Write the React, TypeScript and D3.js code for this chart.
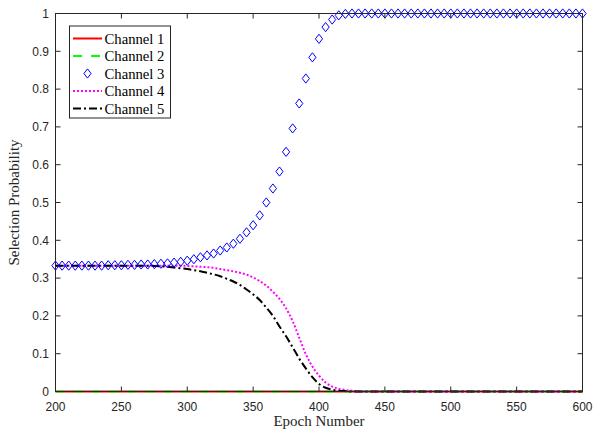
import React from "react";
import * as d3 from "d3";

const epochs = [
  200, 205, 210, 215, 220, 225, 230, 235, 240, 245, 250, 255, 260, 265, 270, 275, 280, 285, 290, 295,
  300, 305, 310, 315, 320, 325, 330, 335, 340, 345, 350, 355, 360, 365, 370, 375, 380, 385, 390, 395,
  400, 405, 410, 415, 420, 425, 430, 435, 440, 445, 450, 455, 460, 465, 470, 475, 480, 485, 490, 495,
  500, 505, 510, 515, 520, 525, 530, 535, 540, 545, 550, 555, 560, 565, 570, 575, 580, 585, 590, 595, 600,
];
const channel1 = [
  0, 0, 0, 0, 0, 0, 0, 0, 0, 0, 0, 0, 0, 0, 0, 0, 0, 0, 0, 0,
  0, 0, 0, 0, 0, 0, 0, 0, 0, 0, 0, 0, 0, 0, 0, 0, 0, 0, 0, 0,
  0, 0, 0, 0, 0, 0, 0, 0, 0, 0, 0, 0, 0, 0, 0, 0, 0, 0, 0, 0,
  0, 0, 0, 0, 0, 0, 0, 0, 0, 0, 0, 0, 0, 0, 0, 0, 0, 0, 0, 0, 0,
];
const channel2 = [
  0, 0, 0, 0, 0, 0, 0, 0, 0, 0, 0, 0, 0, 0, 0, 0, 0, 0, 0, 0,
  0, 0, 0, 0, 0, 0, 0, 0, 0, 0, 0, 0, 0, 0, 0, 0, 0, 0, 0, 0,
  0, 0, 0, 0, 0, 0, 0, 0, 0, 0, 0, 0, 0, 0, 0, 0, 0, 0, 0, 0,
  0, 0, 0, 0, 0, 0, 0, 0, 0, 0, 0, 0, 0, 0, 0, 0, 0, 0, 0, 0, 0,
];
const channel3 = [
  0.333, 0.333, 0.333, 0.333, 0.333, 0.333, 0.333, 0.333, 0.334, 0.334, 0.334, 0.335, 0.335, 0.336, 0.336, 0.337, 0.338, 0.339, 0.341, 0.343,
  0.346, 0.350, 0.355, 0.360, 0.365, 0.373, 0.381, 0.391, 0.404, 0.421, 0.440, 0.466, 0.500, 0.537, 0.582, 0.634, 0.696, 0.762, 0.828, 0.884,
  0.933, 0.964, 0.984, 0.995, 0.999, 1, 1, 1, 1, 1, 1, 1, 1, 1, 1, 1, 1, 1, 1, 1,
  1, 1, 1, 1, 1, 1, 1, 1, 1, 1, 1, 1, 1, 1, 1, 1, 1, 1, 1, 1, 1,
];
const channel4 = [
  0.333, 0.333, 0.333, 0.333, 0.333, 0.333, 0.333, 0.333, 0.333, 0.333, 0.333, 0.333, 0.333, 0.333, 0.333, 0.333, 0.333, 0.333, 0.333, 0.333,
  0.332, 0.331, 0.330, 0.329, 0.327, 0.324, 0.321, 0.318, 0.314, 0.309, 0.302, 0.292, 0.280, 0.264, 0.245, 0.220, 0.186, 0.142, 0.099, 0.066,
  0.042, 0.024, 0.013, 0.007, 0.004, 0.002, 0.001, 0, 0, 0, 0, 0, 0, 0, 0, 0, 0, 0, 0, 0,
  0, 0, 0, 0, 0, 0, 0, 0, 0, 0, 0, 0, 0, 0, 0, 0, 0, 0, 0, 0, 0,
];
const channel5 = [
  0.333, 0.333, 0.333, 0.333, 0.333, 0.333, 0.333, 0.333, 0.333, 0.333, 0.333, 0.333, 0.333, 0.333, 0.333, 0.332, 0.331, 0.330, 0.328, 0.326,
  0.324, 0.321, 0.318, 0.314, 0.310, 0.305, 0.298, 0.291, 0.282, 0.270, 0.257, 0.242, 0.222, 0.200, 0.172, 0.146, 0.117, 0.087, 0.061, 0.038,
  0.020, 0.010, 0.005, 0.002, 0.001, 0, 0, 0, 0, 0, 0, 0, 0, 0, 0, 0, 0, 0, 0, 0,
  0, 0, 0, 0, 0, 0, 0, 0, 0, 0, 0, 0, 0, 0, 0, 0, 0, 0, 0, 0, 0,
];

const xTicks = [200, 250, 300, 350, 400, 450, 500, 550, 600];
const yTicks = [0, 0.1, 0.2, 0.3, 0.4, 0.5, 0.6, 0.7, 0.8, 0.9, 1];
const legendLabels = ["Channel 1", "Channel 2", "Channel 3", "Channel 4", "Channel 5"];

const W = 603;
const H = 434;
const L = 55.5;
const R = 582.5;
const T = 13.5;
const B = 391.5;
const axisColor = "#262626";

function diamondPath(cx: number, cy: number) {
  const hw = 3.6;
  const hh = 4.6;
  return `M${cx},${cy - hh}L${cx + hw},${cy}L${cx},${cy + hh}L${cx - hw},${cy}Z`;
}

export default function App() {
  const x = d3.scaleLinear().domain([200, 600]).range([L, R]);
  const y = d3.scaleLinear().domain([0, 1]).range([B, T]);
  const line = d3
    .line<[number, number]>()
    .x((d) => x(d[0]))
    .y((d) => y(d[1]))
    .curve(d3.curveMonotoneX);
  const mk = (vals: number[]) => line(epochs.map((e, i) => [e, vals[i]] as [number, number])) || "";

  const series = [
    { vals: channel1, color: "#ff0000", dash: "none" },
    { vals: channel2, color: "#00ff00", dash: "9,9" },
    { vals: channel4, color: "#ff00ff", dash: "2,2" },
    { vals: channel5, color: "#000000", dash: "8,3,2,3" },
  ];

  const legX = 69.5;
  const legY = 26;
  const legW = 101;
  const legH = 92;
  const rowY = [38.5, 56, 73.5, 91, 108.5];
  const legStyles = [
    { color: "#ff0000", dash: "none" },
    { color: "#00ff00", dash: "9,9" },
    { color: "#0000ff", dash: "marker" },
    { color: "#ff00ff", dash: "2,2" },
    { color: "#000000", dash: "8,3,2,3" },
  ];

  return (
    <svg
      width={W}
      height={H}
      style={{ position: "absolute", left: 0, top: 0, background: "#fff" }}
      xmlns="http://www.w3.org/2000/svg"
    >
      <rect x={0} y={0} width={W} height={H} fill="#fff" />
      <g fill="none" strokeWidth={2}>
        {series.map((s, i) => (
          <path key={i} d={mk(s.vals)} stroke={s.color} strokeDasharray={s.dash === "none" ? undefined : s.dash} />
        ))}
      </g>
      <g fill="none" stroke="#0000ff" strokeWidth={1}>
        {epochs.map((e, i) => (
          <path key={i} d={diamondPath(x(e), y(channel3[i]))} />
        ))}
      </g>
      <rect x={L} y={T} width={R - L} height={B - T} fill="none" stroke={axisColor} strokeWidth={1} />
      {xTicks.map((t) => (
        <g key={"x" + t}>
          <line x1={x(t)} x2={x(t)} y1={B} y2={B - 5} stroke={axisColor} />
          <line x1={x(t)} x2={x(t)} y1={T} y2={T + 5} stroke={axisColor} />
          <text
            x={x(t)}
            y={411}
            textAnchor="middle"
            fontFamily="'Liberation Sans', Arial, sans-serif"
            fontSize={12}
            fill={axisColor}
          >
            {t}
          </text>
        </g>
      ))}
      {yTicks.map((t) => (
        <g key={"y" + t}>
          <line x1={L} x2={L + 5} y1={y(t)} y2={y(t)} stroke={axisColor} />
          <line x1={R} x2={R - 5} y1={y(t)} y2={y(t)} stroke={axisColor} />
          <text
            x={49}
            y={y(t) + 4.3}
            textAnchor="end"
            fontFamily="'Liberation Sans', Arial, sans-serif"
            fontSize={12}
            fill={axisColor}
          >
            {d3.format("~g")(t)}
          </text>
        </g>
      ))}
      <text
        x={(L + R) / 2}
        y={426}
        textAnchor="middle"
        fontFamily="'Liberation Serif', 'Times New Roman', serif"
        fontSize={15}
        fill={axisColor}
      >
        Epoch Number
      </text>
      <text
        transform={`translate(19,${(T + B) / 2}) rotate(-90)`}
        textAnchor="middle"
        fontFamily="'Liberation Serif', 'Times New Roman', serif"
        fontSize={15}
        fill={axisColor}
      >
        Selection Probability
      </text>
      <rect x={legX} y={legY} width={legW} height={legH} fill="#fff" stroke={axisColor} strokeWidth={1} />
      {legendLabels.map((lab, i) => (
        <g key={lab}>
          {legStyles[i].dash === "marker" ? (
            <path d={diamondPath(87.5, rowY[i])} fill="none" stroke="#0000ff" strokeWidth={1} />
          ) : (
            <line
              x1={73}
              x2={102}
              y1={rowY[i]}
              y2={rowY[i]}
              stroke={legStyles[i].color}
              strokeWidth={2}
              strokeDasharray={legStyles[i].dash === "none" ? undefined : legStyles[i].dash}
            />
          )}
          <text
            x={104.5}
            y={rowY[i] + 5}
            fontFamily="'Liberation Serif', 'Times New Roman', serif"
            fontSize={14.7}
            fill="#000"
          >
            {lab}
          </text>
        </g>
      ))}
    </svg>
  );
}
